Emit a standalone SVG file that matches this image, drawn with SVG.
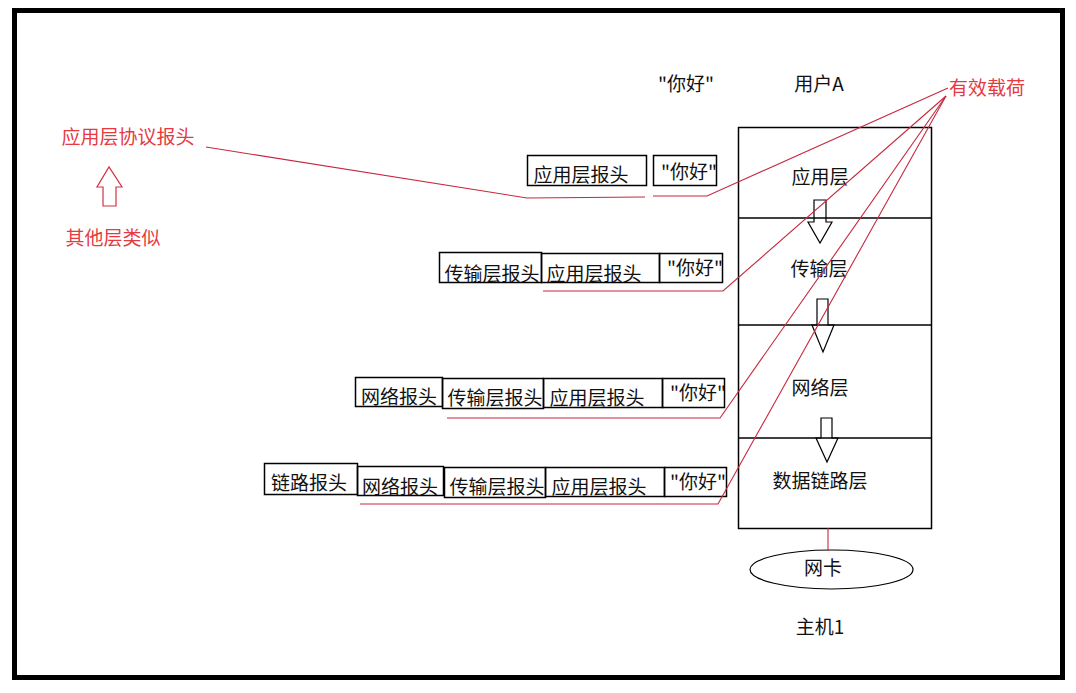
<svg xmlns="http://www.w3.org/2000/svg" width="1076" height="693" viewBox="0 0 1076 693">
<style>
text{font-family:"Microsoft YaHei","Noto Sans CJK SC","Liberation Sans",sans-serif;font-size:19px;text-anchor:middle;dominant-baseline:central;fill:#111;transform:translateY(-1.5px)}
.red{fill:#e53a3f}
.box{fill:none;stroke:#000;stroke-width:1.5}
.rl{fill:none;stroke:#c8283f;stroke-width:1.1}
.arr{fill:none;stroke:#000;stroke-width:1.2}
</style>
<rect x="0" y="0" width="1076" height="693" fill="#fff"/>
<rect x="14.5" y="10.5" width="1048" height="667" fill="none" stroke="#000" stroke-width="5"/>

<g id="labels-top">
<text x="686" y="84">"你好"</text>
<text x="819" y="84">用户A</text>
<text x="987" y="88" class="red">有效载荷</text>
</g>

<g id="left-note">
<text x="128" y="137" class="red">应用层协议报头</text>
<polygon points="103,206 116,206 116,187 122,187 109,167 97,187 103,187" fill="none" stroke="#d43040" stroke-width="1.2"/>
<text x="113" y="238" class="red">其他层类似</text>
</g>

<g id="stack">
<rect x="738.5" y="127.5" width="193" height="401" class="box"/>
<line x1="738" y1="218" x2="932" y2="218" stroke="#000" stroke-width="1.5"/>
<line x1="738" y1="325" x2="932" y2="325" stroke="#000" stroke-width="1.5"/>
<line x1="738" y1="438" x2="932" y2="438" stroke="#000" stroke-width="1.5"/>
<text x="820" y="177">应用层</text>
<text x="819" y="269">传输层</text>
<text x="820" y="388">网络层</text>
<text x="820" y="481">数据链路层</text>
<polygon class="arr" points="814,200 826,200 826,222 832,222 820,243 808,222 814,222"/>
<polygon class="arr" points="817,299 828,299 828,325 834,325 823,352 812,325 817,325"/>
<polygon class="arr" points="821,418 832,418 832,438 838,438 827,462 816,438 821,438"/>
</g>

<g id="nic">
<ellipse cx="831.5" cy="569.5" rx="81.5" ry="19.5" fill="none" stroke="#000" stroke-width="1.2"/>
<text x="823" y="568">网卡</text>
<text x="820" y="627">主机1</text>
</g>

<g id="row1">
<rect x="527.5" y="155.5" width="119" height="30" class="box"/>
<rect x="653.5" y="155.5" width="63" height="30" class="box"/>
<text x="581" y="175">应用层报头</text>
<text x="689" y="172">"你好"</text>
</g>

<g id="row2">
<rect x="439.5" y="252.5" width="102" height="30" class="box"/>
<rect x="541.5" y="253.5" width="118" height="29" class="box"/>
<rect x="659.5" y="253.5" width="63" height="29" class="box"/>
<text x="492" y="274">传输层报头</text>
<text x="594" y="274">应用层报头</text>
<text x="695" y="268">"你好"</text>
</g>

<g id="row3">
<rect x="355.5" y="377.5" width="87" height="29" class="box"/>
<rect x="442.5" y="378.5" width="101" height="30" class="box"/>
<rect x="543.5" y="378.5" width="119" height="29" class="box"/>
<rect x="662.5" y="378.5" width="62" height="29" class="box"/>
<text x="399" y="397">网络报头</text>
<text x="495" y="398">传输层报头</text>
<text x="597" y="398">应用层报头</text>
<text x="698" y="393">"你好"</text>
</g>

<g id="row4">
<rect x="264.5" y="463.5" width="93" height="31" class="box"/>
<rect x="357.5" y="466.5" width="86" height="29" class="box"/>
<rect x="444.5" y="467.5" width="101" height="30" class="box"/>
<rect x="545.5" y="467.5" width="119" height="29" class="box"/>
<rect x="664.5" y="467.5" width="62" height="29" class="box"/>
<text x="309" y="483">链路报头</text>
<text x="400" y="487">网络报头</text>
<text x="497" y="487">传输层报头</text>
<text x="599" y="487">应用层报头</text>
<text x="698" y="482">"你好"</text>
</g>

<g id="connectors">
<polyline class="rl" points="206,147 527,198 645,197"/>
<polyline class="rl" points="948,88 707,196 653,196"/>
<polyline class="rl" points="946,96 723,291 543,291"/>
<polyline class="rl" points="946,96 720,418 447,418"/>
<polyline class="rl" points="946,96 718,504 360,504"/>
<line class="rl" x1="828" y1="528" x2="828" y2="551"/>
</g>
</svg>
